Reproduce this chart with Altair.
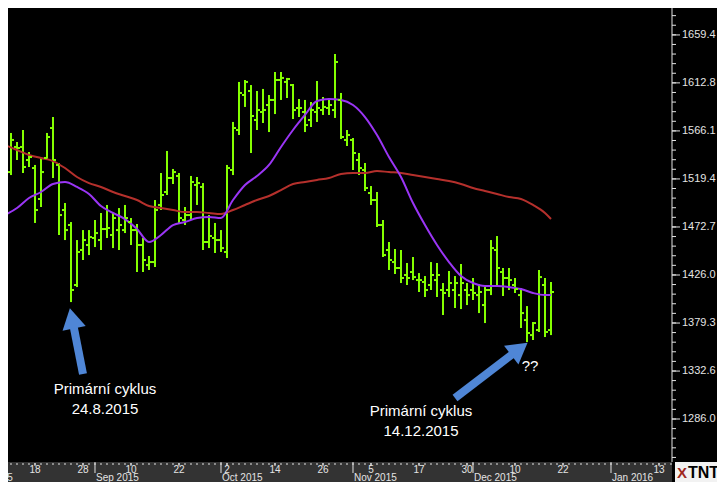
import altair as alt
import pandas as pd
import numpy as np

# ---------------- data ----------------
# trading-day index (0 = 11 Aug 2015 ... 91 = 18 Dec 2015)
idx = list(range(92))
high = [1540.7,1564.1,1555.3,1567.0,1545.6,1533.0,1539.8,1564.1,1579.6,1534.9,
        1496.0,1477.5,1460.0,1469.7,1469.7,1479.5,1486.3,1494.1,1486.3,1491.1,
        1494.1,1481.4,1475.6,1462.0,1444.5,1498.9,1525.2,1546.6,1529.1,1525.2,
        1492.1,1522.3,1521.3,1515.4,1484.3,1476.6,1469.7,1533.0,1574.8,1613.7,
        1615.6,1610.7,1604.9,1606.9,1601.0,1623.4,1623.4,1617.6,1611.7,1597.1,
        1596.2,1594.2,1614.6,1599.1,1598.1,1640.9,1603.0,1567.0,1559.2,1544.6,
        1534.9,1512.5,1506.7,1479.5,1458.1,1451.3,1450.3,1437.7,1443.5,1427.9,
        1425.0,1438.6,1437.7,1418.2,1429.9,1425.0,1436.7,1418.2,1423.1,1417.2,
        1414.3,1460.0,1463.9,1432.8,1432.8,1423.1,1413.3,1395.8,1380.3,1430.9,
        1423.1,1419.2]
low = [1521.3,1523.2,1537.8,1525.2,1531.0,1476.6,1492.1,1537.8,1520.3,1464.9,
       1460.0,1399.7,1414.3,1440.6,1445.4,1453.2,1450.3,1462.0,1452.2,1450.3,
       1466.8,1455.2,1428.9,1428.9,1430.9,1433.8,1489.2,1503.8,1514.5,1476.6,
       1474.6,1479.5,1494.1,1450.3,1452.2,1447.4,1448.4,1442.5,1523.2,1562.1,
       1589.4,1544.6,1567.0,1573.8,1565.0,1582.5,1596.2,1598.1,1577.7,1579.6,
       1565.0,1569.9,1574.8,1581.6,1581.6,1578.7,1558.2,1551.4,1528.1,1523.2,
       1507.7,1494.1,1472.7,1443.5,1430.9,1427.0,1418.2,1416.3,1421.1,1409.5,
       1404.6,1411.4,1404.6,1387.1,1404.6,1393.9,1392.9,1396.8,1401.7,1389.0,
       1379.3,1406.5,1416.3,1405.6,1411.4,1408.5,1374.5,1360.8,1362.8,1370.6,
       1365.7,1367.6]
open_ = [1537.8,1526.1,1550.5,1550.5,1537.8,1530.0,1499.9,1539.8,1568.9,1533.0,
         1489.2,1474.6,1416.3,1450.3,1455.2,1462.0,1460.0,1470.7,1464.9,1469.7,
         1469.7,1477.5,1469.7,1455.2,1435.7,1438.6,1494.1,1506.7,1520.3,1522.3,
         1479.5,1484.3,1513.5,1511.6,1458.1,1462.0,1460.0,1448.4,1528.1,1567.0,
         1601.0,1604.9,1576.7,1584.5,1591.3,1596.2,1615.6,1613.7,1610.7,1588.4,
         1584.5,1576.7,1584.5,1586.4,1588.4,1586.4,1596.2,1557.3,1557.3,1537.8,
         1528.1,1505.7,1498.9,1474.6,1450.3,1438.6,1432.8,1426.0,1428.9,1421.1,
         1419.2,1416.3,1421.1,1411.4,1411.4,1411.4,1406.5,1411.4,1411.4,1406.5,
         1396.8,1411.4,1450.3,1428.9,1423.1,1416.3,1406.5,1382.2,1367.6,1372.5,
         1416.3,1372.5]
close = [1527.1,1557.3,1549.5,1531.0,1540.7,1489.2,1526.1,1560.2,1537.8,1484.3,
         1469.7,1411.4,1448.4,1460.0,1462.9,1466.8,1470.7,1471.7,1481.4,1474.6,
         1481.4,1469.7,1455.2,1440.6,1438.6,1489.2,1503.8,1520.3,1526.1,1481.4,
         1484.3,1516.4,1515.4,1458.1,1463.9,1460.0,1452.2,1530.0,1568.9,1603.0,
         1613.7,1580.6,1586.4,1586.4,1596.2,1615.6,1617.6,1616.6,1586.4,1588.4,
         1571.8,1586.4,1588.4,1589.4,1591.3,1633.1,1560.2,1562.1,1544.6,1530.0,
         1510.6,1498.9,1474.6,1445.4,1440.6,1432.8,1423.1,1423.1,1424.0,1421.1,
         1411.4,1426.0,1426.0,1408.5,1418.2,1418.2,1418.2,1406.5,1408.5,1409.5,
         1411.4,1452.2,1432.8,1423.1,1421.1,1412.4,1389.0,1369.6,1379.3,1424.0,
         1370.6,1409.5]

# moving averages (read every second bar)
ma_idx = list(range(0, 91, 2)) + [91]
ma_fast = [1484.3,1491.1,1500.9,1506.7,1514.5,1516.4,1511.6,1504.8,1493.1,1486.3,
           1480.4,1470.7,1458.1,1464.9,1474.6,1477.5,1481.4,1482.4,1481.4,1498.9,
           1513.5,1522.3,1533.0,1550.5,1567.0,1581.6,1595.2,1597.1,1596.2,1591.3,
           1579.6,1562.1,1540.7,1521.3,1496.0,1474.6,1455.2,1438.6,1425.0,1418.2,
           1415.3,1415.3,1414.3,1412.4,1408.5,1406.5,1406.5]
ma_slow = [1552.4,1547.5,1542.7,1539.8,1536.8,1530.0,1521.3,1515.4,1511.6,1506.7,
           1502.8,1498.9,1493.1,1491.1,1489.2,1487.2,1487.2,1486.3,1485.3,1489.2,
           1494.1,1498.9,1502.8,1508.6,1514.5,1516.4,1518.4,1520.3,1524.2,1525.2,
           1525.2,1527.1,1526.1,1525.2,1523.2,1521.3,1519.3,1517.4,1514.5,1510.6,
           1507.7,1504.8,1501.8,1499.9,1494.1,1486.3,1480.4]

# axis labels
y_ticks = [1286.0, 1332.6, 1379.3, 1426.0, 1472.7, 1519.4, 1566.1, 1612.8, 1659.4]
y_labels = ["1286.0", "1332.6", "1379.3", "1426.0", "1472.7", "1519.4", "1566.1", "1612.8", "1659.4"]
day_pos = [5, 13, 21, 29, 37, 45, 53, 61, 69, 77, 85, 93, 109]
day_txt = ["18", "28", "10", "22", "2", "14", "26", "5", "17", "30", "10", "22", "13"]
month_pos = [-6, 15, 36, 58, 78, 101]
month_txt = ["Aug 2015", "Sep 2015", "Oct 2015", "Nov 2015", "Dec 2015", "Jan 2016"]
all_days = list(range(-1, 112))

# annotations
ann_i = [16.67, 16.67, 69.33, 69.33, 87.5]
ann_p = [1315.1, 1295.7, 1293.7, 1274.3, 1337.5]
ann_t = ["Primární cyklus", "24.8.2015", "Primární cyklus", "14.12.2015", "??"]
arrow_tail_i = [13.0, 75.0]
arrow_tail_p = [1329.7, 1306.4]
arrow_head_i = [11.17, 85.73]
arrow_head_p = [1383.9, 1354.2]
arrow_angle = [348, 52.6]

# ---------------- chart ----------------
GREEN = "#84ff00"
PURPLE = "#9a35f5"
RED = "#b5302c"
BLUE = "#4f86d6"
AXC = "#e4e4e4"
FONT = "Liberation Sans"
W, H = 664, 454

xs = alt.Scale(domain=[0.5, 111.1667], nice=False, zero=False)
ys = alt.Scale(domain=[1244.2, 1685.6], nice=False, zero=False)

bars = pd.DataFrame({"i": idx, "o": open_, "h": high, "l": low, "c": close})
ma = pd.DataFrame({"i": ma_idx, "fast": ma_fast, "slow": ma_slow})

X = lambda f: alt.X(f, scale=xs, axis=None)
Y = lambda f: alt.Y(f, scale=ys, axis=None)

base = alt.Chart(bars)
hl = base.mark_rule(color=GREEN, strokeWidth=2, clip=True).encode(
    x=X("i:Q"), y=Y("l:Q"), y2="h:Q")
op = base.transform_calculate(xl="datum.i - 0.5").mark_rule(
    color=GREEN, strokeWidth=2, clip=True).encode(x=X("xl:Q"), x2="i:Q", y=Y("o:Q"))
cl = base.transform_calculate(xr="datum.i + 0.5").mark_rule(
    color=GREEN, strokeWidth=2, clip=True).encode(x=X("i:Q"), x2="xr:Q", y=Y("c:Q"))

slow = alt.Chart(ma).mark_line(color=RED, strokeWidth=2, clip=True,
                               interpolate="monotone").encode(x=X("i:Q"), y=Y("slow:Q"))
fast = alt.Chart(ma).mark_line(color=PURPLE, strokeWidth=2, clip=True,
                               interpolate="monotone").encode(x=X("i:Q"), y=Y("fast:Q"))

# right price axis drawn as marks
one = pd.DataFrame({"a": [0]})
ydomain = alt.Chart(one).mark_rule(color=AXC, strokeWidth=1).encode(
    x=alt.value(W), y=alt.value(0), y2=alt.value(H))
ytk = pd.DataFrame({"v": y_ticks, "t": y_labels})
ymajor = alt.Chart(ytk).mark_rule(color=AXC, strokeWidth=1).encode(
    y=Y("v:Q"), x=alt.value(W), x2=alt.value(W + 8))
ylab = alt.Chart(ytk).mark_text(color=AXC, font=FONT, fontSize=11, align="left",
                                baseline="middle").encode(
    y=Y("v:Q"), x=alt.value(W + 10), text="t:N")
minor = [v for v in np.round(1286.0 + np.arange(-5, 46) * 9.3375, 2) if 1244.2 <= v <= 1685.6]
minor_t = alt.Chart(pd.DataFrame({"v": minor})).mark_rule(color=AXC, strokeWidth=1).encode(
    y=Y("v:Q"), x=alt.value(W), x2=alt.value(W + 4))

# bottom date strip
strip = alt.Chart(one).mark_rect(color="#333333").encode(
    x=alt.value(0), x2=alt.value(W), y=alt.value(H), y2=alt.value(H + 20))
dticks = alt.Chart(pd.DataFrame({"i": all_days})).mark_rule(color=AXC, strokeWidth=1).encode(
    x=X("i:Q"), y=alt.value(H + 1), y2=alt.value(H + 3))
lticks = alt.Chart(pd.DataFrame({"i": day_pos})).mark_rule(color=AXC, strokeWidth=1).encode(
    x=X("i:Q"), y=alt.value(H + 1), y2=alt.value(H + 4))
mticks = alt.Chart(pd.DataFrame({"i": month_pos})).mark_rule(color=AXC, strokeWidth=1).encode(
    x=X("i:Q"), y=alt.value(H), y2=alt.value(H + 11))
dlab = alt.Chart(pd.DataFrame({"i": day_pos, "t": day_txt})).mark_text(
    color=AXC, font=FONT, fontSize=10, baseline="alphabetic", align="center").encode(
    x=X("i:Q"), y=alt.value(H + 11), text="t:N")
mlab = alt.Chart(pd.DataFrame({"i": month_pos, "t": month_txt})).mark_text(
    color=AXC, font=FONT, fontSize=10, baseline="alphabetic", align="left", dx=1).encode(
    x=X("i:Q"), y=alt.value(H + 19), text="t:N")

# logo
logo_bg = alt.Chart(one).mark_rect(color="#f2f2f2").encode(
    x=alt.value(W + 3), x2=alt.value(W + 45), y=alt.value(H), y2=alt.value(H + 20))
logo_t = alt.Chart(pd.DataFrame({"t": ["TNT"]})).mark_text(
    color="black", font=FONT, fontSize=16, fontWeight="bold", align="left",
    baseline="middle").encode(x=alt.value(W + 16), y=alt.value(H + 11), text="t:N")
logo_k = alt.Chart(pd.DataFrame({"t": ["X"]})).mark_text(
    color="#a0281e", font=FONT, fontSize=15, fontWeight="bold", align="left",
    baseline="middle").encode(x=alt.value(W + 5), y=alt.value(H + 11), text="t:N")

# annotations
ann = alt.Chart(pd.DataFrame({"i": ann_i, "p": ann_p, "t": ann_t})).mark_text(
    color="white", font=FONT, fontSize=15, align="center", baseline="middle").encode(
    x=X("i:Q"), y=Y("p:Q"), text="t:N")
arr = pd.DataFrame({"i": arrow_tail_i, "p": arrow_tail_p,
                    "i2": arrow_head_i, "p2": arrow_head_p, "a": arrow_angle})
shaft = alt.Chart(arr).mark_rule(color=BLUE, strokeWidth=8).encode(
    x=X("i:Q"), y=Y("p:Q"), x2="i2:Q", y2="p2:Q")
head = alt.Chart(arr).mark_point(shape="triangle-up", filled=True, size=560,
                                 color=BLUE, opacity=1).encode(
    x=X("i2:Q"), y=Y("p2:Q"), angle=alt.Angle("a:Q", scale=None))

chart = alt.layer(
    hl, strip, dticks, lticks, mticks, dlab, mlab,
    ydomain, ymajor, minor_t, ylab, logo_bg, logo_k, logo_t,
    slow, fast, op, cl, shaft, head, ann
).properties(
    width=W, height=H,
    autosize=alt.AutoSizeParams(type="none"),
    padding={"left": 0, "top": 0, "right": 45, "bottom": 20},
    background="black",
).configure_view(strokeWidth=0)

chart.save("out.html", embed_options={"renderer": "svg", "actions": False})
